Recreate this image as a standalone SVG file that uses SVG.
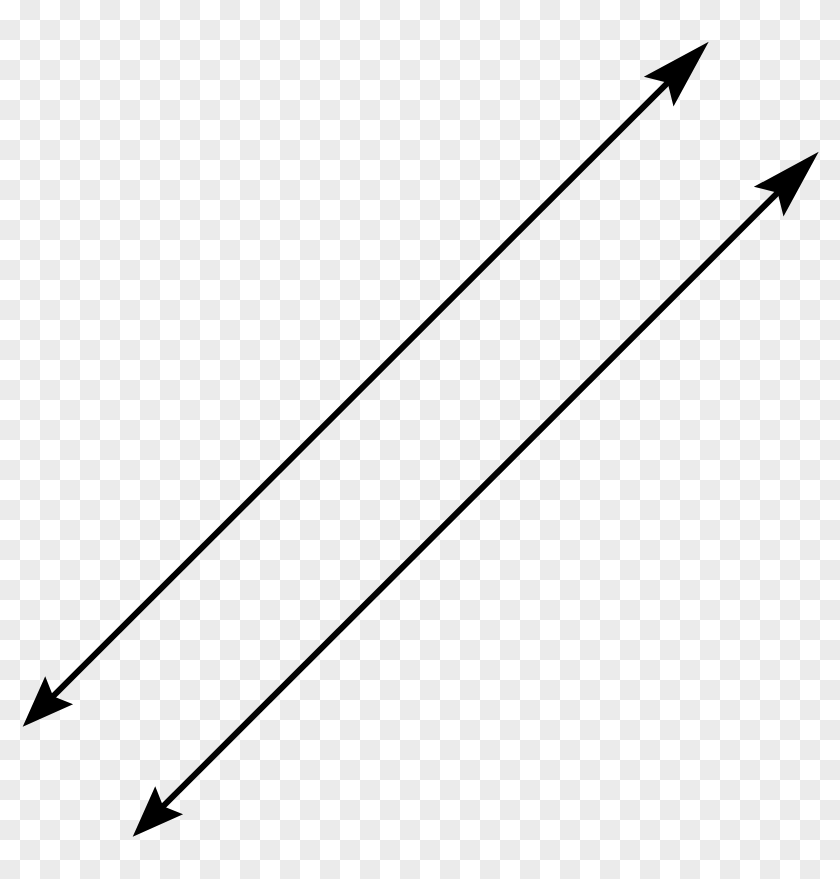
<svg xmlns="http://www.w3.org/2000/svg" width="840" height="879" viewBox="0 0 840 879">
  <defs>
    <pattern id="checker" x="0" y="0" width="40" height="40" patternUnits="userSpaceOnUse">
      <rect x="0" y="0" width="40" height="40" fill="#ffffff"/>
      <rect x="20" y="0" width="20" height="20" fill="#ebebeb"/>
      <rect x="0" y="20" width="20" height="20" fill="#ebebeb"/>
    </pattern>
    <marker id="headBig" markerUnits="userSpaceOnUse" orient="auto" refX="0" refY="0" markerWidth="1" markerHeight="1" overflow="visible">
      <path d="M50,0 L-20.7,-21 L-8,0 L-20.7,21 Z" fill="#000"/>
    </marker>
    <marker id="headSmall" markerUnits="userSpaceOnUse" orient="auto-start-reverse" refX="0" refY="0" markerWidth="1" markerHeight="1" overflow="visible">
      <path d="M35,0 L-16.5,-19.7 L-8,0 L-16.5,19.7 Z" fill="#000"/>
    </marker>
    <style>
      .line { fill: none; stroke: #000; stroke-width: 6; marker-start: url(#headSmall); marker-end: url(#headBig); }
    </style>
  </defs>
  <rect id="background" x="0" y="0" width="840" height="879" fill="url(#checker)"/>
  <g id="connectors">
    <path id="line1" class="line" d="M47.47,701.97 L673.32,77.03"/>
    <path id="line2" class="line" d="M157.47,811.97 L783.32,187.03"/>
  </g>
</svg>
